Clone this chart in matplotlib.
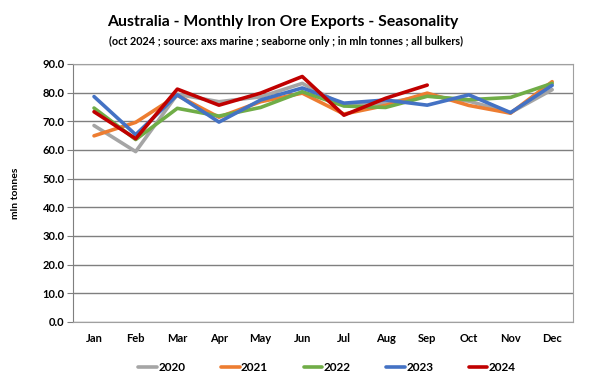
import matplotlib
matplotlib.use("Agg")
import matplotlib.pyplot as plt

plt.rcParams['font.family'] = ['Lato', 'DejaVu Sans']

months = ["Jan", "Feb", "Mar", "Apr", "May", "Jun",
          "Jul", "Aug", "Sep", "Oct", "Nov", "Dec"]

y2020 = [68.5, 59.4, 79.4, 76.8, 78.5, 83.2, 75.5, 76.3, 79.0, 77.0, 73.0, 81.0]
y2021 = [64.9, 69.6, 79.0, 71.4, 76.8, 79.8, 72.5, 75.5, 79.8, 75.5, 72.8, 83.8]
y2022 = [74.6, 63.6, 74.5, 71.8, 74.8, 80.3, 75.3, 74.8, 78.7, 77.5, 78.3, 83.2]
y2023 = [78.6, 65.3, 79.2, 69.7, 77.4, 81.6, 76.3, 77.4, 75.6, 79.2, 73.0, 82.5]
y2024 = [73.3, 63.9, 81.2, 75.6, 79.8, 85.6, 72.1, 78.0, 82.6]

series = [("2020", y2020, "#a5a5a5"),
          ("2021", y2021, "#ed7d31"),
          ("2022", y2022, "#70ad47"),
          ("2023", y2023, "#4472c4"),
          ("2024", y2024, "#c00000")]

fig = plt.figure(figsize=(6, 3.92), dpi=100)
ax = fig.add_axes([0.122, 0.179, 0.833, 0.658])

for name, vals, col in series:
    ax.plot(months[:len(vals)], vals, color=col, lw=2.6, label=name,
            solid_capstyle='round', solid_joinstyle='round')

ax.set_ylim(0, 90)
ax.set_xlim(-0.5, 11.5)
ax.set_yticks(range(0, 91, 10))
ax.set_yticklabels([f"{v:.1f}" for v in range(0, 91, 10)])
ax.yaxis.grid(True, color="#7f7f7f", lw=1)
ax.set_axisbelow(True)
ax.tick_params(axis='y', length=4, color="#7f7f7f", labelsize=8, pad=2)
ax.tick_params(axis='x', length=0, labelsize=8, pad=8)
for lab in ax.get_xticklabels() + ax.get_yticklabels():
    lab.set_fontweight('bold')
for s in ax.spines.values():
    s.set_color("#a0a0a0")
ax.spines['left'].set_color("#7f7f7f")

ax.set_ylabel("mln tonnes", fontsize=7.5, fontweight='bold', labelpad=16)

fig.text(0.472, 0.945, "Australia - Monthly Iron Ore Exports - Seasonality",
         ha='center', va='center', fontsize=11.3, fontweight='bold')
fig.text(0.477, 0.895, "(oct 2024 ; source: axs marine ; seaborne only ; in mln tonnes ; all bulkers)",
         ha='center', va='center', fontsize=7.8, fontweight='bold')

leg = fig.legend(loc='center', bbox_to_anchor=(0.545, 0.062), ncol=5, frameon=False,
                 prop={'size': 8.5, 'weight': 'bold'}, handlelength=1.6,
                 handletextpad=0.1, columnspacing=3.0)

fig.savefig("out.png", dpi=100)
